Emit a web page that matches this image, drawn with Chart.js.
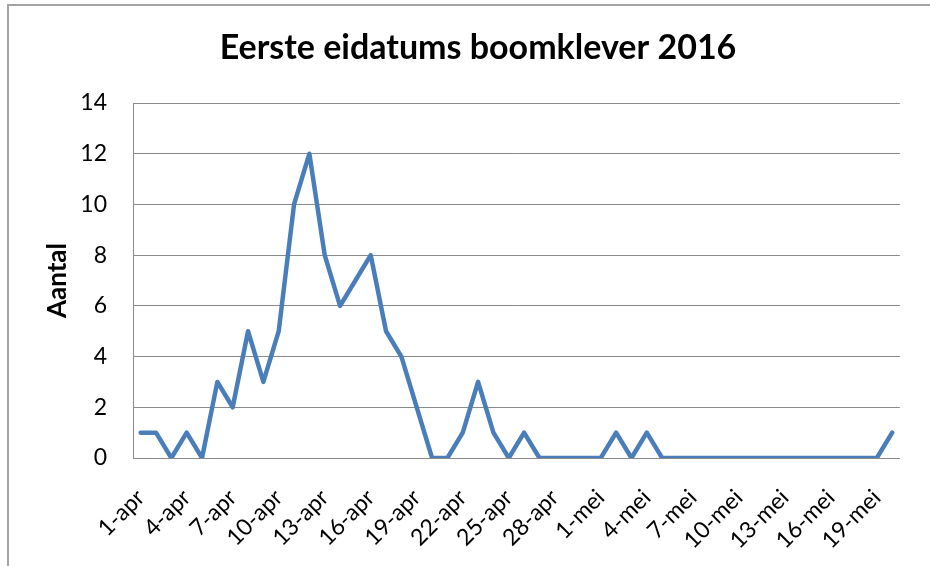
<!DOCTYPE html>
<html>
<head>
<meta charset="utf-8">
<script src="https://cdn.jsdelivr.net/npm/chart.js@4"></script>
<style>
  html, body { margin: 0; padding: 0; background: #fff; overflow: hidden; }
  #wrap { position: relative; width: 930px; height: 566px; }
  #frame { position: absolute; left: 7px; top: 4px; width: 1000px; height: 1000px;
           border-top: 2px solid #a3a3a3; border-left: 2px solid #a3a3a3; }
  canvas { position: absolute; left: 0; top: 0; }
</style>
</head>
<body>
<div id="wrap">
  <div id="frame"></div>
  <canvas id="chart" width="930" height="566"></canvas>
</div>
<script>
// Daily counts of first egg dates, 1 April - 20 May 2016
const days = [
    '1-apr','2-apr','3-apr','4-apr','5-apr','6-apr','7-apr','8-apr','9-apr','10-apr',
    '11-apr','12-apr','13-apr','14-apr','15-apr','16-apr','17-apr','18-apr','19-apr','20-apr',
    '21-apr','22-apr','23-apr','24-apr','25-apr','26-apr','27-apr','28-apr','29-apr','30-apr',
    '1-mei','2-mei','3-mei','4-mei','5-mei','6-mei','7-mei','8-mei','9-mei','10-mei',
    '11-mei','12-mei','13-mei','14-mei','15-mei','16-mei','17-mei','18-mei','19-mei','20-mei'
];
const aantal = [
    1, 1, 0, 1, 0, 3, 2, 5, 3, 5,
    10, 12, 8, 6, 7, 8, 5, 4, 2, 0,
    0, 1, 3, 1, 0, 1, 0, 0, 0, 0,
    0, 1, 0, 1, 0, 0, 0, 0, 0, 0,
    0, 0, 0, 0, 0, 0, 0, 0, 0, 1
];
const labelEvery = 3;
const chartTitle = 'Eerste eidatums boomklever 2016';

const FONT = 'Lato, "Liberation Sans", sans-serif';
const grey = '#8a8a8a';

// title is drawn by hand so it can sit off-centre like the original
const titlePlugin = {
    id: 'ownTitle',
    afterDraw(chart) {
        const ctx = chart.ctx;
        ctx.save();
        ctx.font = 'bold 34px ' + FONT;
        ctx.fillStyle = '#000';
        ctx.textAlign = 'center';
        ctx.textBaseline = 'middle';
        ctx.fillText(chartTitle, 478, 48);
        ctx.restore();
    }
};

new Chart(document.getElementById('chart').getContext('2d'), {
    type: 'line',
    data: {
        labels: days,
        datasets: [{
            label: 'Aantal',
            data: aantal,
            borderColor: '#4a7ebb',
            borderWidth: 4.5,
            borderJoinStyle: 'round',
            borderCapStyle: 'round',
            pointRadius: 0,
            tension: 0,
            fill: false
        }]
    },
    plugins: [titlePlugin],
    options: {
        responsive: false,
        animation: false,
        layout: { padding: { left: 0, right: 30, top: 103, bottom: 0 } },
        plugins: {
            legend: { display: false },
            tooltip: { enabled: false },
            title: { display: false }
        },
        scales: {
            x: {
                offset: true,
                grid: { display: false },
                border: { color: grey, width: 1 },
                afterFit: s => { s.height = 108; },
                ticks: {
                    autoSkip: false,
                    maxRotation: 45, minRotation: 45,
                    padding: 18,
                    color: '#000',
                    font: { family: FONT, size: 23 },
                    callback: (v, i) => (i % labelEvery === 0 ? days[i] : '')
                }
            },
            y: {
                min: 0, max: 14,
                grid: { color: grey, lineWidth: 1, drawTicks: false },
                border: { color: grey, width: 1 },
                afterFit: s => { s.width = 133; },
                ticks: {
                    stepSize: 2,
                    padding: 26,
                    color: '#000',
                    font: { family: FONT, size: 23 }
                },
                title: {
                    display: true,
                    text: 'Aantal',
                    color: '#000',
                    font: { family: FONT, size: 26, weight: 'bold' },
                    padding: { top: 42, bottom: 0 }
                }
            }
        }
    }
});
</script>
</body>
</html>
